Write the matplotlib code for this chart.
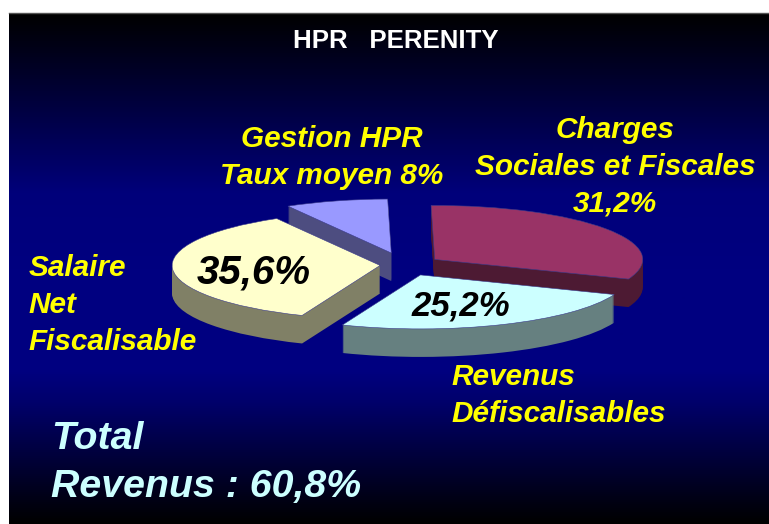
import matplotlib as mpl
mpl.use('Agg')
import matplotlib.pyplot as plt
import numpy as np
from matplotlib.colors import LinearSegmentedColormap

W, H = 769, 524

# slices, clockwise from the top
shares = [31.2, 25.2, 35.6, 8.0]
explode = [0.18, 0.20, 0.115, 0.23]
top_colors = ['#993366', '#ccffff', '#ffffcc', '#9999ff']
side_colors = ['#4d1a33', '#668080', '#808066', '#4d4d80']
draw_order = [3, 0, 2, 1]  # back to front

title = 'HPR   PERENITY'
charges_label = ['Charges', 'Sociales et Fiscales', '31,2%']
gestion_label = ['Gestion HPR', 'Taux moyen 8%']
salaire_label = ['Salaire', 'Net', 'Fiscalisable']
revenus_label = ['Revenus', 'Défiscalisables']
total_label = ['Total', 'Revenus : 60,8%']
salaire_pct = '35,6%'
revenus_pct = '25,2%'

plt.rcParams['font.family'] = ['Liberation Sans', 'DejaVu Sans']

fig = plt.figure(figsize=(W / 100, H / 100), dpi=100, facecolor='white')

############ background gradient #############
bg = fig.add_axes([0, 0, 1, 1], zorder=0)
stops = [(0.0, '#000000'), (0.115, '#000028'), (0.35, '#00007a'), (0.50, '#000080'),
         (0.70, '#000080'), (0.76, '#00006c'), (1.0, '#000000')]
cmap = LinearSegmentedColormap.from_list('slide', stops)
grad = np.linspace(0, 1, 512).reshape(-1, 1)
bg.imshow(grad, cmap=cmap, aspect='auto', extent=(9, W, H, 13), vmin=0, vmax=1)
bg.plot([9, W], [13, 13], color='#555555', lw=1)
bg.set_xlim(0, W)
bg.set_ylim(H, 0)
bg.axis('off')

############ the pie, squashed by the axes scale #############
cx, cy = 404, 265
rx, ry = 208, 54
depth = 28

ax = fig.add_axes([0, 0, 1, 1], zorder=1)
ax.patch.set_alpha(0)
for d in range(depth, -1, -1):
    colors = top_colors if d == 0 else side_colors
    wedges, _ = ax.pie(shares, explode=explode, startangle=91, counterclock=False,
                       colors=colors, center=(0, -d / ry))
    for i, w in enumerate(wedges):
        w.set_zorder(10 * (draw_order.index(i) + 1) + (depth - d) * 0.01)
        if d == 0:
            w.set_edgecolor('#3a3a8c')
            w.set_linewidth(0.4)
ax.set_aspect('auto')
ax.set_xlim(-cx / rx, (W - cx) / rx)
ax.set_ylim((cy - H) / ry, cy / ry)
ax.axis('off')

############ texts #############
tx = fig.add_axes([0, 0, 1, 1], zorder=2)
tx.set_xlim(0, W)
tx.set_ylim(H, 0)
tx.axis('off')


def lines(strings, x, y, step, ha='left', size=21.4, color='#ffff00'):
    for i, s in enumerate(strings):
        tx.text(x, y + i * step, s, ha=ha, va='center', fontsize=size, color=color,
                fontweight='bold', fontstyle='italic')


tx.text(395.5, 41, title, ha='center', va='center', fontsize=18.6, color='white',
        fontweight='bold')
lines(charges_label, 615, 130, 37, ha='center')
lines(gestion_label, 332, 139, 37, ha='center')
lines(salaire_label, 28.5, 268, 37)
lines(revenus_label, 451.5, 377, 37)
lines(total_label, 51, 439, 48, size=28.3, color='#ccffff')
tx.text(254, 272, salaire_pct, ha='center', va='center', fontsize=29, color='black',
        fontweight='bold', fontstyle='italic')
tx.text(461, 306, revenus_pct, ha='center', va='center', fontsize=25, color='black',
        fontweight='bold', fontstyle='italic')

plt.savefig('out.png', dpi=100)
